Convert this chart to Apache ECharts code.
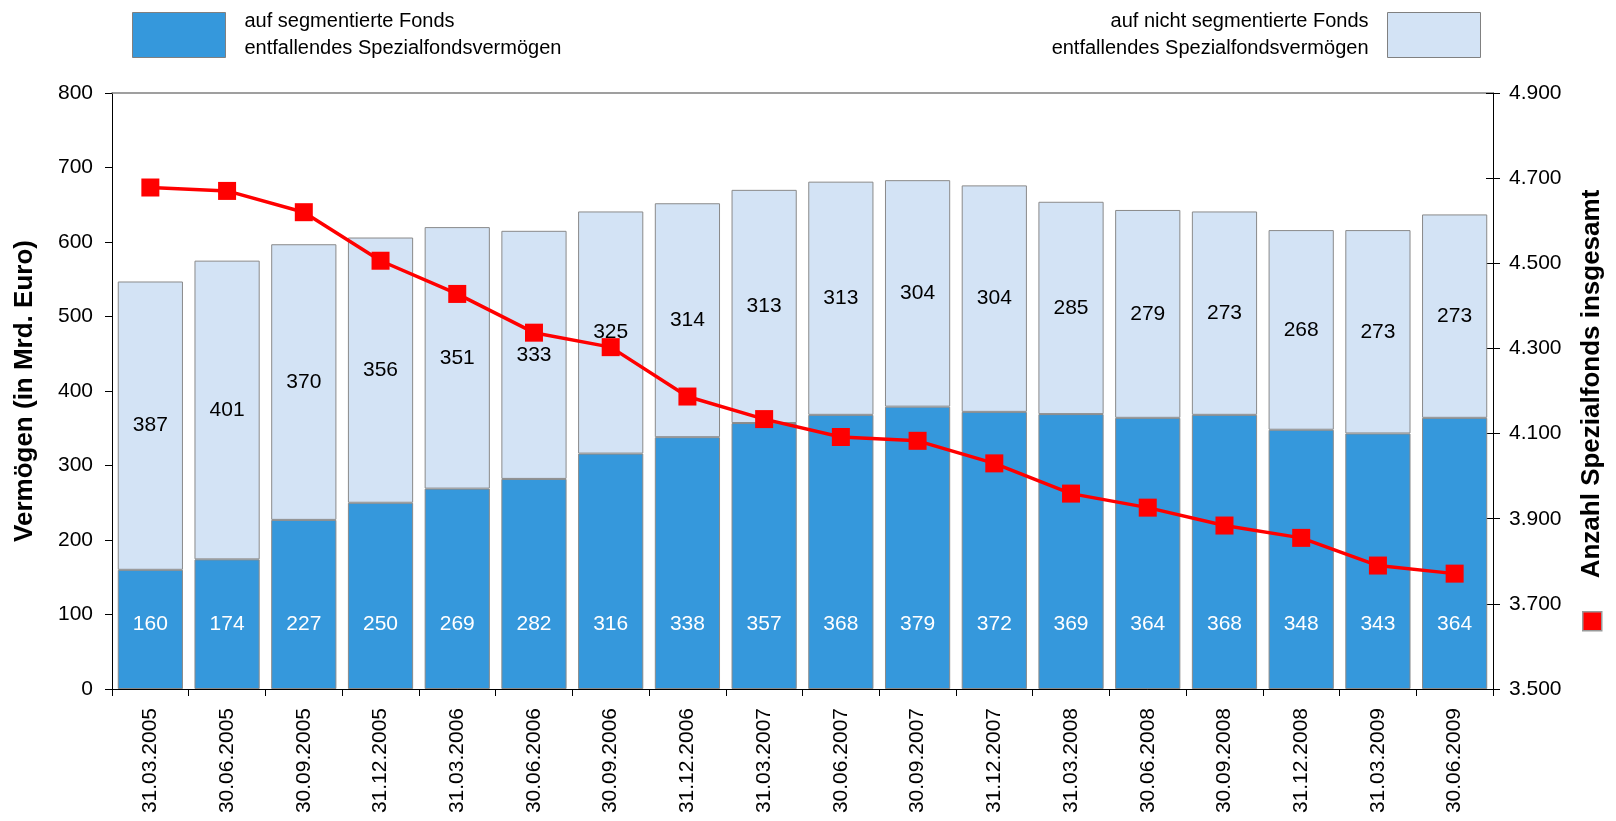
<!DOCTYPE html>
<html>
<head>
<meta charset="utf-8">
<script src="https://cdn.jsdelivr.net/npm/echarts@6/dist/echarts.min.js"></script>
<style>
  html, body { margin: 0; padding: 0; background: #fff; }
  #chart { width: 1616px; height: 821px; }
</style>
</head>
<body>
<div id="chart"></div>
<script>
var dates = ['31.03.2005', '30.06.2005', '30.09.2005', '31.12.2005', '31.03.2006', '30.06.2006',
  '30.09.2006', '31.12.2006', '31.03.2007', '30.06.2007', '30.09.2007', '31.12.2007',
  '31.03.2008', '30.06.2008', '30.09.2008', '31.12.2008', '31.03.2009', '30.06.2009'];
var segmentiert = [160, 174, 227, 250, 269, 282, 316, 338, 357, 368, 379, 372, 369, 364, 368, 348, 343, 364];
var nichtSegmentiert = [387, 401, 370, 356, 351, 333, 325, 314, 313, 313, 304, 304, 285, 279, 273, 268, 273, 273];
var anzahlFonds = [4678, 4670, 4620, 4506, 4428, 4337, 4303, 4187, 4134, 4092, 4083, 4030, 3959, 3926, 3884, 3855, 3790, 3771];

var nameSeg = 'auf segmentierte Fonds\nentfallendes Spezialfondsvermögen';
var nameNicht = 'auf nicht segmentierte Fonds\nentfallendes Spezialfondsvermögen';
var nameAnzahl = 'Anzahl Spezialfonds insgesamt';

var font = '"Liberation Sans", Arial, sans-serif';
var axisGray = '#808080';

var chart = echarts.init(document.getElementById('chart'));

// 4900 -> 4.900
function fmtThousand(v) {
  return String(v).replace(/\B(?=(\d{3})+(?!\d))/g, '.');
}

var option = {
  animation: false,
  textStyle: { fontFamily: font },
  grid: { left: 112, right: 123, top: 93, bottom: 132 },
  legend: [
    {
      data: [nameSeg],
      left: 132, top: 8, padding: 0,
      itemWidth: 93, itemHeight: 45,
      icon: 'rect',
      itemStyle: { borderColor: axisGray, borderWidth: 1 },
      textStyle: { fontSize: 20, lineHeight: 27, color: '#000', padding: [0, 0, 0, 14] },
      selectedMode: false
    },
    {
      data: [nameNicht],
      right: 135, top: 8, padding: 0, align: 'right',
      itemWidth: 93, itemHeight: 45,
      icon: 'rect',
      itemStyle: { borderColor: axisGray, borderWidth: 1 },
      textStyle: { fontSize: 20, lineHeight: 27, color: '#000', align: 'right', padding: [0, 14, 0, 0] },
      selectedMode: false
    },
    {
      data: [nameAnzahl],
      left: 1582, top: 611, padding: 0,
      itemWidth: 19, itemHeight: 19,
      icon: 'rect',
      formatter: function () { return ''; },
      itemStyle: { borderColor: '#999', borderWidth: 1.5 },
      selectedMode: false
    }
  ],
  xAxis: [
    {
      type: 'category',
      data: dates,
      axisLine: { lineStyle: { color: '#000', width: 1 } },
      axisTick: { show: true, alignWithLabel: false, length: 7, lineStyle: { color: '#000' } },
      axisLabel: { rotate: 90, fontSize: 21, color: '#000', margin: 19, interval: 0 }
    },
    {
      // thin gray frame line along the top of the plot
      type: 'category',
      position: 'top',
      data: dates,
      axisLine: { lineStyle: { color: axisGray, width: 1.5 } },
      axisTick: { show: false },
      axisLabel: { show: false }
    }
  ],
  yAxis: [
    {
      type: 'value',
      min: 0, max: 800, interval: 100,
      name: 'Vermögen (in Mrd. Euro)',
      nameLocation: 'middle',
      nameRotate: 90,
      nameGap: 74,
      nameTextStyle: { fontSize: 26, fontWeight: 'bold', color: '#000' },
      axisLine: { show: true, lineStyle: { color: '#000' } },
      axisTick: { show: true, length: 7, lineStyle: { color: '#000' } },
      axisLabel: { fontSize: 21, color: '#000', margin: 19 },
      splitLine: { show: false }
    },
    {
      type: 'value',
      position: 'right',
      min: 3500, max: 4900, interval: 200,
      name: nameAnzahl,
      nameLocation: 'middle',
      nameRotate: 90,
      nameGap: 86,
      nameTextStyle: { fontSize: 26, fontWeight: 'bold', color: '#000', padding: [0, 0, 0, 14] },
      axisLine: { show: true, lineStyle: { color: '#000' } },
      axisTick: { show: true, length: 7, lineStyle: { color: '#000' } },
      axisLabel: { fontSize: 21, color: '#000', margin: 16, formatter: fmtThousand },
      splitLine: { show: false }
    },
    {
      // inner half of the crossing ticks on the right axis
      type: 'value',
      position: 'right',
      min: 3500, max: 4900, interval: 200,
      axisLine: { show: false },
      axisTick: { show: true, inside: true, length: 7, lineStyle: { color: '#000' } },
      axisLabel: { show: false },
      splitLine: { show: false }
    }
  ],
  series: [
    {
      name: nameSeg,
      type: 'bar',
      stack: 'v',
      barCategoryGap: '15%',
      data: segmentiert,
      itemStyle: { color: '#3598DC', borderColor: '#8a8a8a', borderWidth: 1 },
      label: { show: true, position: 'insideBottom', distance: 54, color: '#fff', fontSize: 21 }
    },
    {
      name: nameNicht,
      type: 'bar',
      stack: 'v',
      barCategoryGap: '15%',
      data: nichtSegmentiert,
      itemStyle: { color: '#D3E3F5', borderColor: '#8a8a8a', borderWidth: 1 },
      label: { show: true, position: 'inside', color: '#000', fontSize: 21 }
    },
    {
      name: nameAnzahl,
      type: 'line',
      yAxisIndex: 1,
      data: anzahlFonds,
      symbol: 'rect',
      symbolSize: 18,
      lineStyle: { color: '#FF0000', width: 3.5 },
      itemStyle: { color: '#FF0000' },
      z: 5
    }
  ]
};

chart.setOption(option);
</script>
</body>
</html>
